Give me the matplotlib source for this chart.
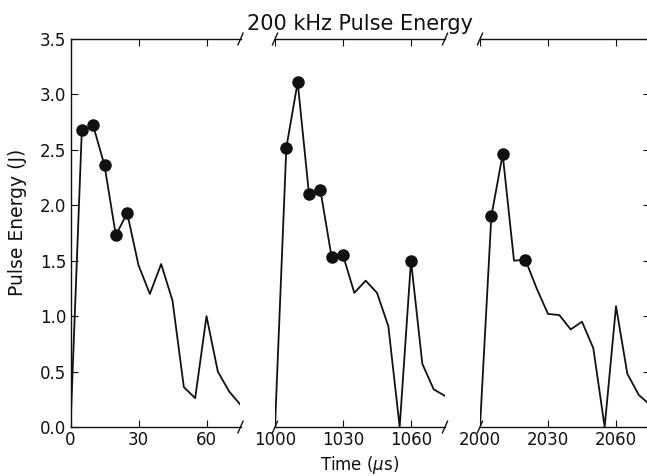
import matplotlib
matplotlib.use("Agg")
import matplotlib.pyplot as plt
from matplotlib.ticker import FormatStrFormatter

# ---- data ----
t1 = [0, 5, 10, 15, 20, 25, 30, 35, 40, 45, 50, 55, 60, 65, 70, 75]
e1 = [0.0, 2.68, 2.72, 2.36, 1.73, 1.93, 1.46, 1.20, 1.47, 1.14, 0.36, 0.26, 1.00, 0.50, 0.32, 0.20]
m1_t = [5, 10, 15, 20, 25]
m1_e = [2.68, 2.72, 2.36, 1.73, 1.93]

t2 = [1000, 1005, 1010, 1015, 1020, 1025, 1030, 1035, 1040, 1045, 1050, 1055, 1060, 1065, 1070, 1075]
e2 = [0.0, 2.52, 3.11, 2.10, 2.14, 1.53, 1.55, 1.21, 1.32, 1.21, 0.91, 0.0, 1.50, 0.57, 0.34, 0.28]
m2_t = [1005, 1010, 1015, 1020, 1025, 1030, 1060]
m2_e = [2.52, 3.11, 2.10, 2.14, 1.53, 1.55, 1.50]

t3 = [2000, 2005, 2010, 2015, 2020, 2025, 2030, 2035, 2040, 2045, 2050, 2055, 2060, 2065, 2070, 2075]
e3 = [0.0, 1.90, 2.46, 1.50, 1.51, 1.25, 1.02, 1.01, 0.88, 0.95, 0.71, 0.0, 1.09, 0.48, 0.29, 0.20]
m3_t = [2005, 2010, 2020]
m3_e = [1.90, 2.46, 1.51]

xlims = [(0, 75), (1000, 1075), (2000, 2075)]
xticks = [[0, 30, 60], [1000, 1030, 1060], [2000, 2030, 2060]]
yticks = [0.0, 0.5, 1.0, 1.5, 2.0, 2.5, 3.0, 3.5]

fig = plt.figure(figsize=(6.47, 4.76), dpi=100)
W, H = 647.0, 476.0
lefts = [70.5, 275.0, 480.0]
pw = 170.0
bottom = (H - 427.0) / H
height = (427.0 - 39.0) / H

axes = []
for i, l in enumerate(lefts):
    ax = fig.add_axes([l / W, bottom, pw / W, height])
    axes.append(ax)

data = [(t1, e1, m1_t, m1_e), (t2, e2, m2_t, m2_e), (t3, e3, m3_t, m3_e)]
for i, ax in enumerate(axes):
    t, e, mt, me = data[i]
    ax.plot(t, e, color='#111111', lw=1.3)
    ax.plot(mt, me, 'o', color='#111111', ms=8)
    ax.set_xlim(*xlims[i])
    ax.set_ylim(0, 3.5)
    ax.set_xticks(xticks[i])
    ax.tick_params(direction='in', length=5, width=0.8, labelsize=12,
                   top=True, bottom=True, colors='#111111', pad=3)
    for sp in ax.spines.values():
        sp.set_linewidth(1.0)
        sp.set_color('#111111')
    ax.set_yticks(yticks)
    ax.yaxis.set_major_formatter(FormatStrFormatter('%.1f'))

axes[0].spines['right'].set_visible(False)
axes[0].tick_params(left=True, right=False)
axes[1].spines['left'].set_visible(False)
axes[1].spines['right'].set_visible(False)
axes[1].tick_params(left=False, right=False, labelleft=False)
axes[2].spines['left'].set_visible(False)
axes[2].tick_params(left=False, right=True, labelleft=False, labelright=False)

# break marks
d = 0.015
for i, ax in enumerate(axes):
    kw = dict(transform=ax.transAxes, color='#111111', clip_on=False, lw=1.0)
    if i < 2:
        ax.plot((1 - d, 1 + d), (-d, d), **kw)
        ax.plot((1 - d, 1 + d), (1 - d, 1 + d), **kw)
    if i > 0:
        ax.plot((-d, d), (-d, d), **kw)
        ax.plot((-d, d), (1 - d, 1 + d), **kw)

fig.text(360 / W, 1 - 24 / H, '200 kHz Pulse Energy', ha='center', va='center', fontsize=15, color='#111111')
fig.text(360 / W, 1 - 465 / H, r'Time ($\mu$s)', ha='center', va='center', fontsize=12, color='#111111')
fig.text(18 / W, 1 - 222 / H, 'Pulse Energy (J)', ha='center', va='center', rotation=90, fontsize=13.5, color='#111111')

fig.savefig('out.png', dpi=100)
